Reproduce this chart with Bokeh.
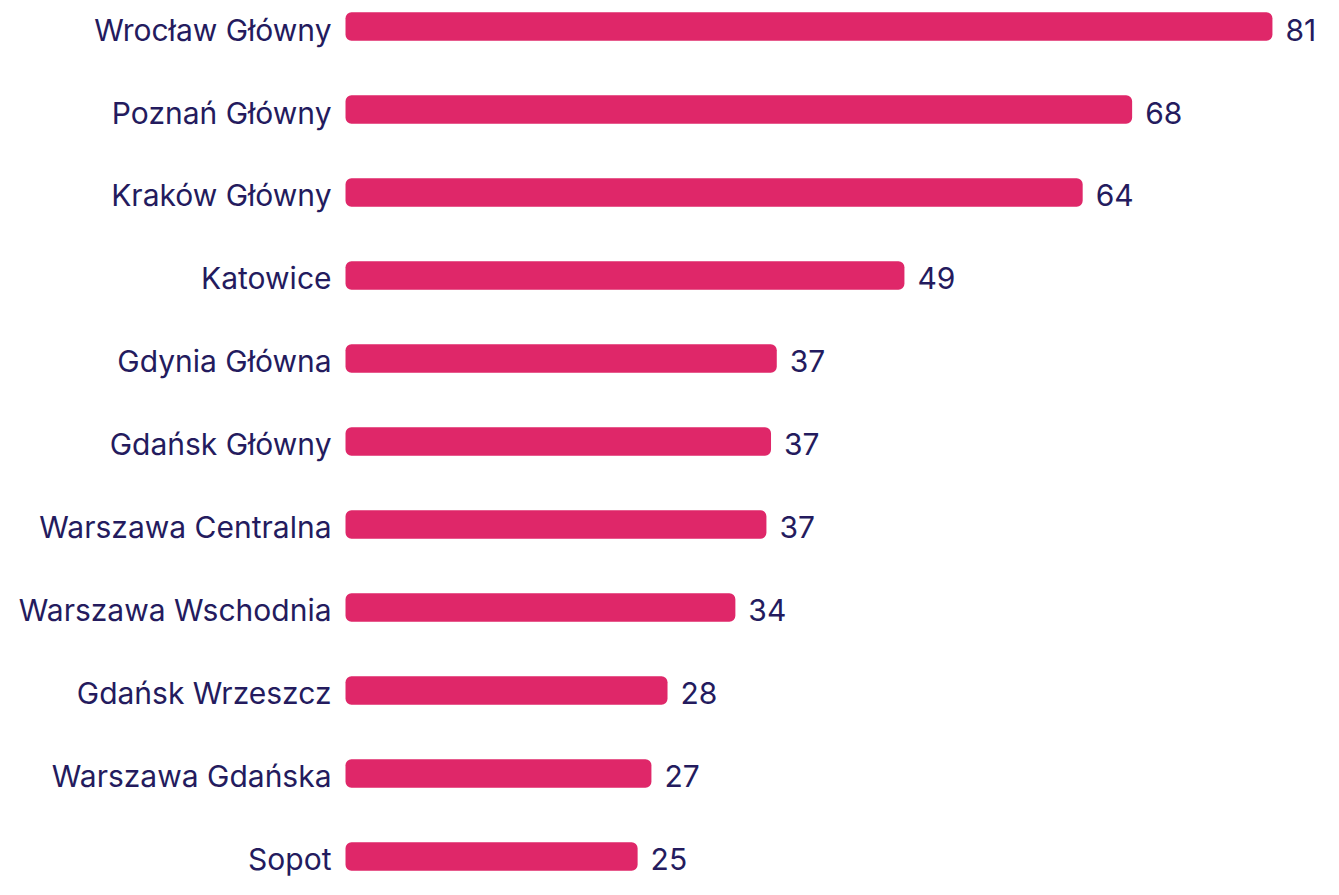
from bokeh.plotting import figure
from bokeh.models import ColumnDataSource, Range1d
from bokeh.core.properties import value
from bokeh.embed import file_html
from bokeh.resources import INLINE

stations = ["Wrocław Główny", "Poznań Główny", "Kraków Główny", "Katowice",
            "Gdynia Główna", "Gdańsk Główny", "Warszawa Centralna",
            "Warszawa Wschodnia", "Gdańsk Wrzeszcz", "Warszawa Gdańska", "Sopot"]
values = [80.6, 68.4, 64.1, 48.6, 37.5, 37.0, 36.6, 33.9, 28.0, 26.6, 25.4]
value_labels = ["81", "68", "64", "49", "37", "37", "37", "34", "28", "27", "25"]

BAR = "#DF2769"
TEXT = "#241B5E"
FONT = "Inter"

src = ColumnDataSource(dict(
    y=list(range(len(stations))),
    station=stations,
    value=values,
    label=value_labels,
    zero=[0] * len(stations),
))

W, H = 1323, 879
p = figure(width=W, height=H, output_backend="svg", toolbar_location=None,
           x_range=Range1d(-30.0, 85.04), y_range=Range1d(10.2773, -0.3133),
           min_border=0, x_axis_location=None, y_axis_location=None)
p.outline_line_color = None
p.grid.visible = False
p.background_fill_color = "white"
p.border_fill_color = "white"

p.hbar(y="y", left="zero", right="value", height=0.343, source=src,
       fill_color=BAR, line_color=None, border_radius=6)

p.text(x="zero", y="y", text="station", source=src, x_offset=-14, y_offset=3,
       text_align="right", text_baseline="middle", text_color=TEXT,
       text_font=value(FONT), text_font_size="30px")
p.text(x="value", y="y", text="label", source=src, x_offset=13, y_offset=3,
       text_align="left", text_baseline="middle", text_color=TEXT,
       text_font=value(FONT), text_font_size="30px")

open("out.html", "w").write(file_html(p, INLINE))
